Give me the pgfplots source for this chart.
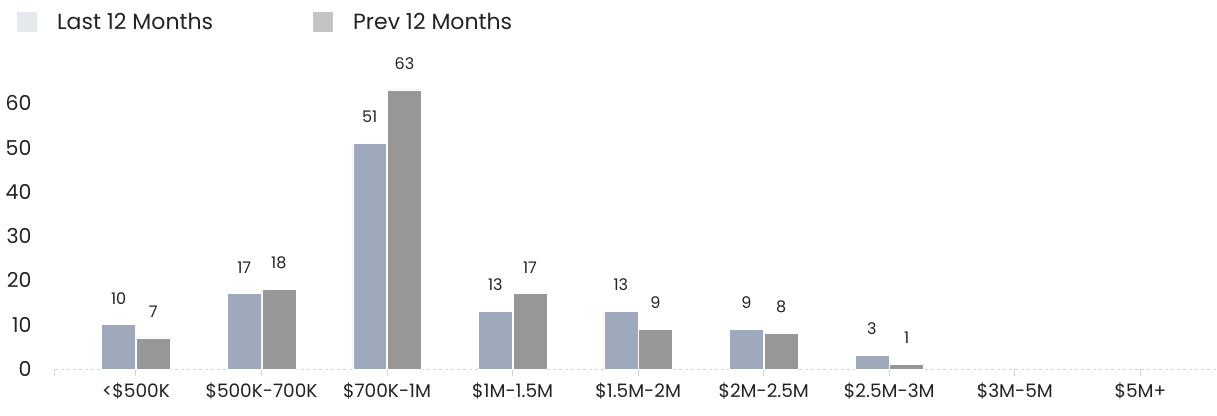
\documentclass[border=0pt]{standalone}
\usepackage{pgfplots}
\pgfplotsset{compat=1.18}
\usepackage{fontspec}
\setmainfont{Poppins}
\definecolor{lastc}{HTML}{9FA9BC}
\definecolor{prevc}{HTML}{979797}
\definecolor{lastl}{HTML}{E5E8EC}
\definecolor{prevl}{HTML}{C4C4C4}
\definecolor{gridc}{HTML}{D4D4D4}
\definecolor{txt}{HTML}{222222}
\begin{document}
\begin{tikzpicture}[x=1pt,y=1pt]
\path[use as bounding box] (0,0) rectangle (1217pt,415pt);
\begin{axis}[
  at={(55pt,46pt)}, anchor=south west,
  scale only axis,
  width=1162pt, height=288pt,
  xmin=-0.645, xmax=8.61,
  ymin=0, ymax=65,
  axis y line=none,
  axis x line*=bottom,
  x axis line style={gridc, dash pattern=on 3pt off 3pt, line width=1pt, -},
  xtick={0,...,8},
  xticklabels={<\$500K,\$500K-700K,\$700K-1M,\$1M-1.5M,\$1.5M-2M,\$2M-2.5M,\$2.5M-3M,\$3M-5M,\$5M+},
  extra x ticks={-0.645},
  extra x tick labels={},
  extra x tick style={tick style={gridc, line width=1pt, dash pattern=on 3pt off 2pt}},
  x tick style={gridc, line width=1pt},
  tick align=outside,
  major tick length=7pt,
  x tick label style={font=\fontsize{18.5}{20}\selectfont, text=txt, yshift=-3pt},
  clip=false,
  ybar, bar width=0.27,
  nodes near coords,
  /pgf/number format/assume math mode=true,
  every node near coord/.append style={font=\fontsize{16}{18}\selectfont, text=txt, anchor=south, yshift=17pt},
  legend style={at={(-0.0353,1.25)}, anchor=north west, draw=none, fill=none,
    legend columns=2, font=\fontsize{22}{24}\selectfont, text=txt,
    /tikz/every even column/.append style={column sep=98pt}},
  legend cell align=left,
  legend image code/.code={\fill[#1] (0pt,-10pt) rectangle (20pt,10pt);},
]
\addlegendimage{fill=lastl, draw=none}
\addlegendentry{\hspace{18pt}Last 12 Months}
\addlegendimage{fill=prevl, draw=none}
\addlegendentry{\hspace{18pt}Prev 12 Months}
\addplot[forget plot, fill=lastc, draw=white, line width=0.6pt, bar shift=-0.138] coordinates {(0,10) (1,17) (2,51) (3,13) (4,13) (5,9) (6,3)};
\addplot[forget plot, fill=prevc, draw=white, line width=0.6pt, bar shift=0.138] coordinates {(0,7) (1,18) (2,63) (3,17) (4,9) (5,8) (6,1)};
\end{axis}
\foreach \v/\yy in {0/46,10/90.3,20/134.6,30/178.9,40/223.2,50/267.5,60/311.8}{
  \node[anchor=east, font=\fontsize{20.5}{22}\selectfont, text=txt] at (35pt,\yy pt) {\v};
}
\end{tikzpicture}
\end{document}
